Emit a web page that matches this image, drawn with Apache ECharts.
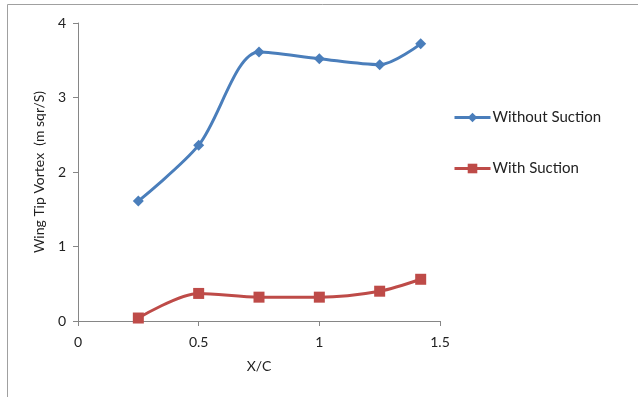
<!DOCTYPE html>
<html><head><meta charset="utf-8">
<script src="https://cdn.jsdelivr.net/npm/echarts@6/dist/echarts.min.js"></script>
<style>html,body{margin:0;padding:0;background:#fff}#c{width:638px;height:397px}</style>
</head><body><div id="c"></div>
<script>
const xValues = [0.25, 0.5, 0.75, 1.0, 1.25, 1.42];
const withoutSuction = [1.61, 2.36, 3.61, 3.52, 3.44, 3.72];
const withSuction = [0.04, 0.37, 0.32, 0.32, 0.40, 0.56];
const seriesNames = ['Without Suction', 'With Suction'];
const xTitle = 'X/C';
const yTitle = 'Wing Tip Vortex  (m sqr/S)';

const font = 'Lato, Liberation Sans, Arial, sans-serif';
const chart = echarts.init(document.getElementById('c'), null, {renderer: 'canvas'});
chart.setOption({
  animation: false,
  backgroundColor: '#fff',
  graphic: [
    {type: 'line', shape: {x1: 7.5, y1: 4.5, x2: 638, y2: 4.5}, style: {stroke: '#a0a0a0', lineWidth: 1}},
    {type: 'line', shape: {x1: 7.5, y1: 4.5, x2: 7.5, y2: 397}, style: {stroke: '#a0a0a0', lineWidth: 1}}
  ],
  grid: {left: 78, right: 198, top: 23, bottom: 76},
  legend: {
    orient: 'vertical', left: 448, top: 105, itemWidth: 36, itemHeight: 12, itemGap: 36,
    lineStyle: {width: 3},
    textStyle: {fontFamily: font, fontSize: 15, color: '#222', padding: [0, 0, 0, -3]},
    data: seriesNames
  },
  xAxis: {
    type: 'value', min: 0, max: 1.5, interval: 0.5,
    name: xTitle, nameLocation: 'middle', nameGap: 38,
    nameTextStyle: {fontFamily: font, fontSize: 14, color: '#222'},
    axisLine: {lineStyle: {color: '#868686'}},
    axisTick: {show: true, inside: false, length: 5, lineStyle: {color: '#868686'}},
    axisLabel: {fontFamily: font, fontSize: 14, color: '#222', margin: 14},
    splitLine: {show: false}
  },
  yAxis: {
    type: 'value', min: 0, max: 4, interval: 1,
    name: yTitle, nameLocation: 'middle', nameGap: 32, nameRotate: 90,
    nameTextStyle: {fontFamily: font, fontSize: 14, color: '#222'},
    axisLine: {show: true, lineStyle: {color: '#868686'}},
    axisTick: {show: true, inside: false, length: 5, lineStyle: {color: '#868686'}},
    axisLabel: {fontFamily: font, fontSize: 14, color: '#222', margin: 12},
    splitLine: {show: false}
  },
  series: [
    {
      name: seriesNames[0], type: 'line', smooth: 0.3,
      data: xValues.map((x, i) => [x, withoutSuction[i]]),
      symbol: 'diamond', symbolSize: 11,
      lineStyle: {color: '#4a7ebb', width: 3},
      itemStyle: {color: '#4a7ebb'}
    },
    {
      name: seriesNames[1], type: 'line', smooth: 0.3,
      data: xValues.map((x, i) => [x, withSuction[i]]),
      symbol: 'rect', symbolSize: 11,
      lineStyle: {color: '#be4b48', width: 3},
      itemStyle: {color: '#be4b48'}
    }
  ]
});
</script></body></html>
